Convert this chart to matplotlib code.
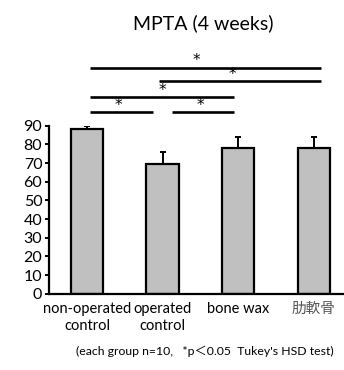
import numpy as np
import matplotlib.pyplot as plt

plt.rcParams['font.family'] = ['Lato', 'Noto Sans CJK JP', 'DejaVu Sans']

# ---- data ----
groups = ["non-operated\ncontrol", "operated\ncontrol", "bone wax", "肋軟骨"]
mpta = [88.2, 69.3, 77.9, 77.9]
sd_up = [1.8, 6.4, 6.2, 6.2]
yticks = [0, 10, 20, 30, 40, 50, 60, 70, 80, 90]

# significance brackets: (x start, x end, height)
sig_lines = [(0.04, 3.09, 121.0),
             (0.95, 3.09, 113.9),
             (0.04, 1.94, 105.5),
             (0.04, 0.87, 97.5),
             (1.12, 1.94, 97.5)]
star_pos = [(1.45, 125.0), (1.92, 117.5), (0.99, 109.0), (0.41, 101.0), (1.50, 101.0)]

fig = plt.figure(figsize=(3.44, 3.70), dpi=100)
ax = fig.add_axes([0.1433, 0.2062, 0.8567, 0.4541])

x = np.arange(len(groups))
ax.bar(x, mpta, width=0.43, color='#c0c0c0', edgecolor='black', linewidth=1.6, zorder=2)
ax.errorbar(x, mpta, yerr=[np.zeros(len(sd_up)), sd_up], fmt='none',
            ecolor='black', elinewidth=1.4, capsize=2.5, capthick=1.4, zorder=1)

ax.set_xlim(-0.5, 3.4)
ax.set_ylim(0, 90)
ax.set_yticks(yticks)
ax.set_xticks(x)
ax.set_xticklabels(groups, fontsize=10.5, linespacing=1.3)
labels = ax.get_xticklabels()
labels[3].set_color('#555555')
ax.tick_params(axis='x', length=0, pad=6)
ax.tick_params(axis='y', length=3, width=1.4, labelsize=11.5, pad=2)
for s in ['top', 'right']:
    ax.spines[s].set_visible(False)
ax.spines['left'].set_linewidth(1.6)
ax.spines['bottom'].set_linewidth(1.6)

for x0, x1, h in sig_lines:
    ax.plot([x0, x1], [h, h], color='black', lw=1.9, clip_on=False, solid_capstyle='butt')
for sx, sy in star_pos:
    ax.text(sx, sy, '*', ha='center', va='center', fontsize=11,
            family='DejaVu Sans', clip_on=False)

fig.text(0.59, 0.938, 'MPTA (4 weeks)', ha='center', va='center', fontsize=14)
fig.text(0.595, 0.05, "(each group n=10,   *p＜0.05  Tukey's HSD test)",
         ha='center', va='center', fontsize=8.8)

fig.savefig('out.png', dpi=100)
